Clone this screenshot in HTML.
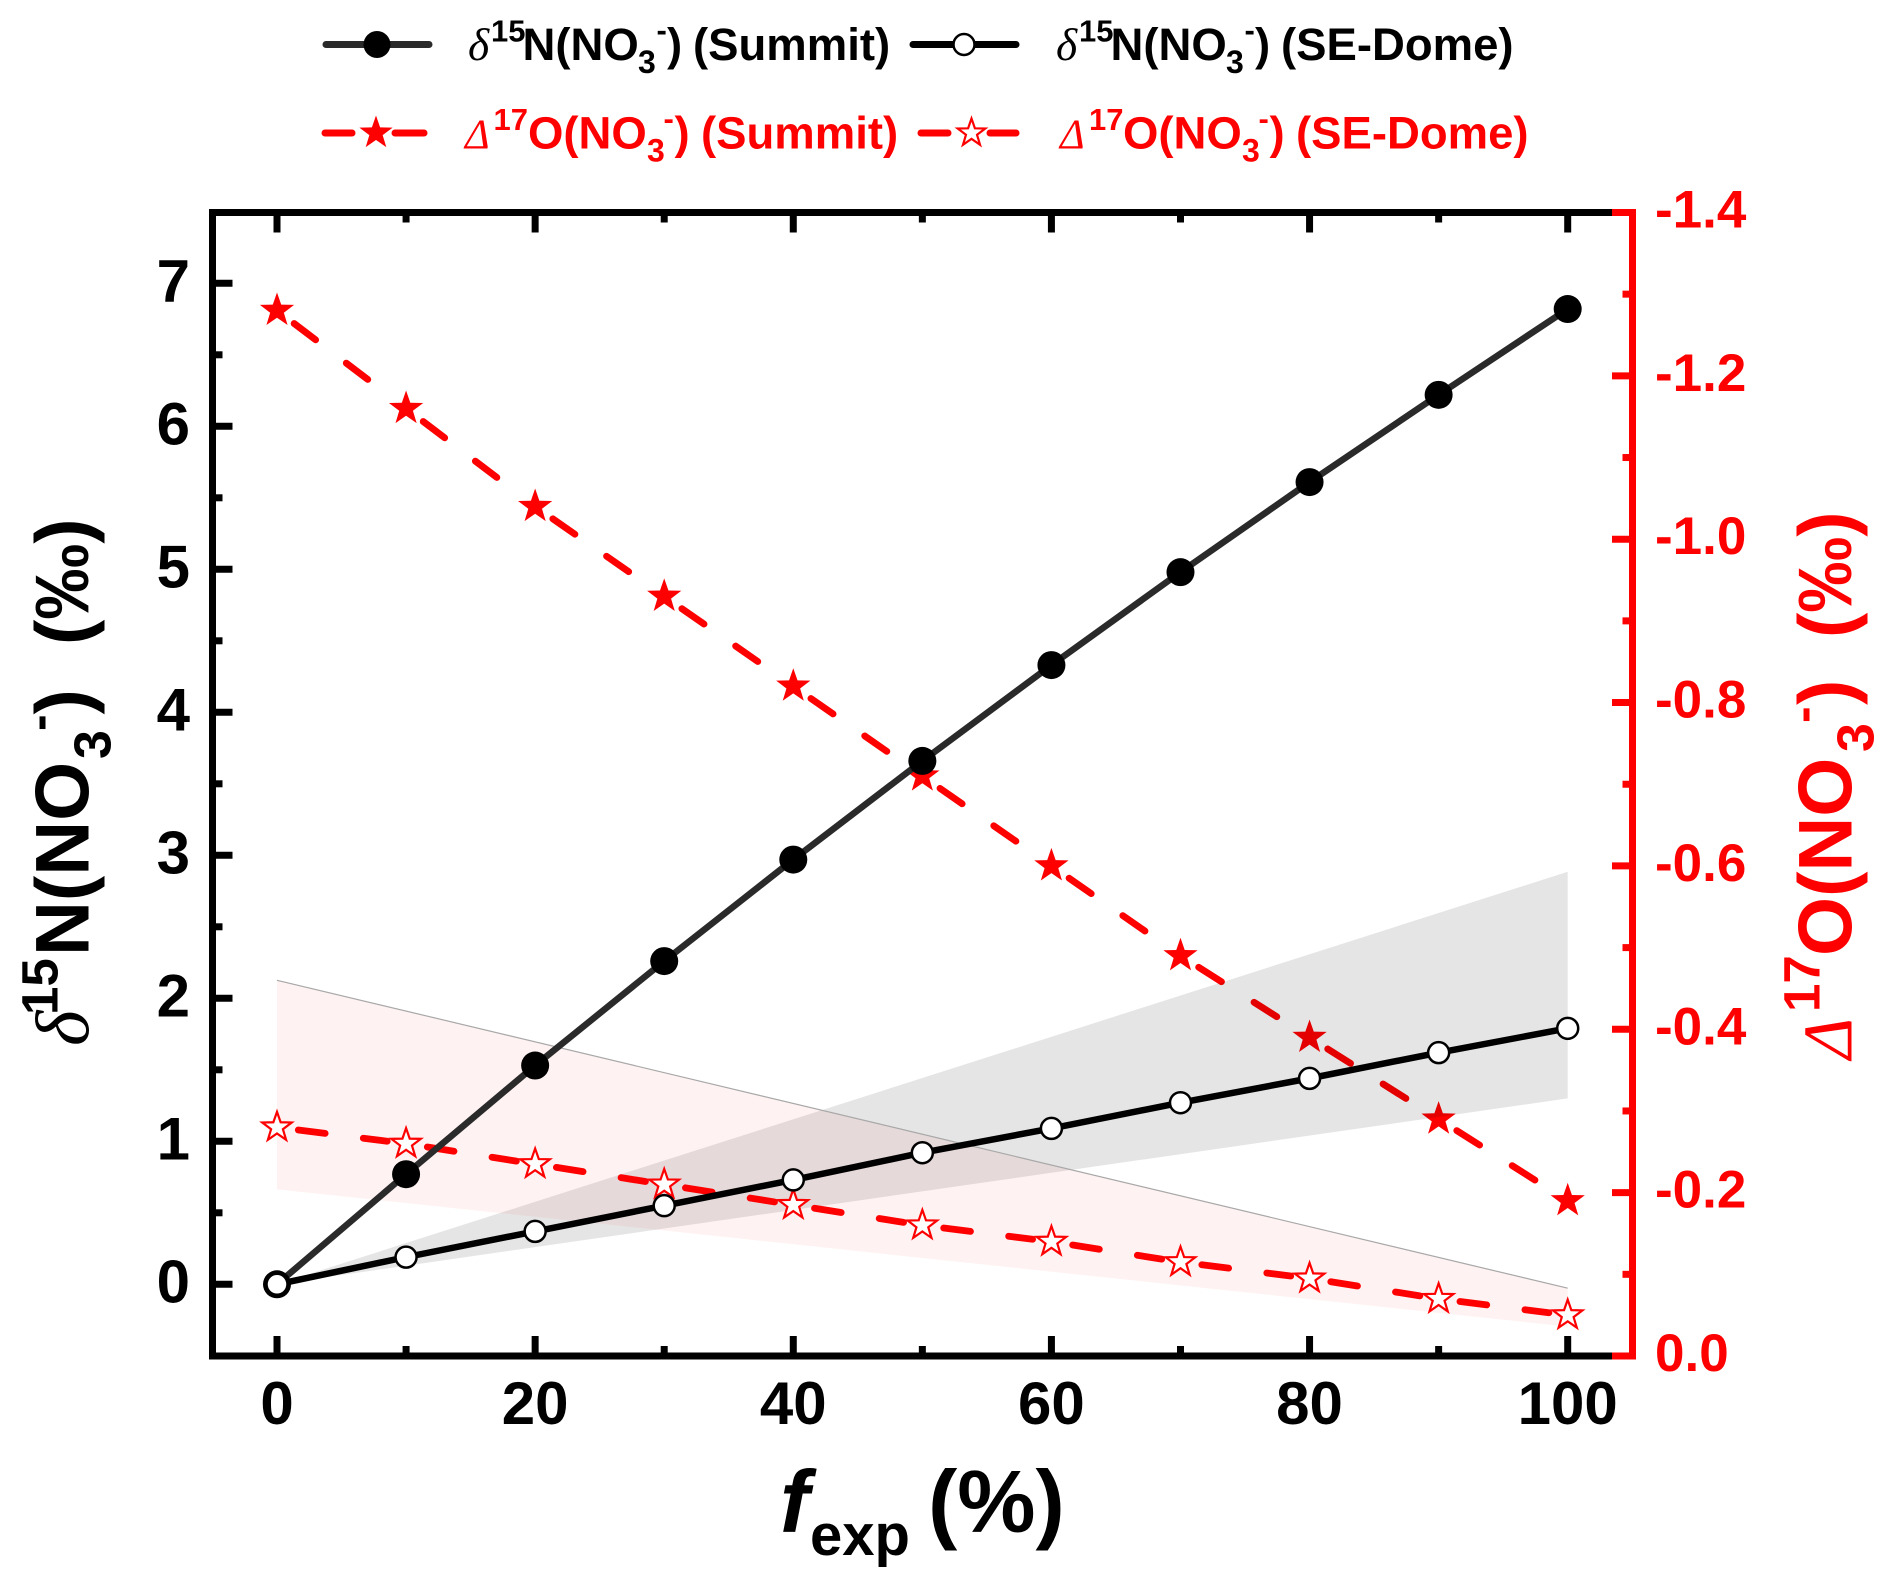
<!DOCTYPE html>
<html lang="en">
<head>
<meta charset="utf-8">
<title>Nitrate isotopes versus f-exp</title>
<style>
html,body{margin:0;padding:0;background:#fff}
svg{display:block}
text{font-family:"Liberation Sans","DejaVu Sans",sans-serif;font-weight:bold}
.gr{font-family:"Liberation Serif","DejaVu Serif",serif;font-style:italic;font-weight:normal}
</style>
</head>
<body>
<svg id="chart" xmlns="http://www.w3.org/2000/svg" width="1892" height="1586" viewBox="0 0 1892 1586">
  <rect width="1892" height="1586" fill="#fff"/>
  <g id="red-summit-layer"></g>
  <g id="band-layer"></g>
  <g id="red-dome-layer"></g>
  <g id="black-layer"></g>
  <g id="axes-layer"></g>

  <g id="legend">
    <g>
      <line x1="326" y1="44.5" x2="429" y2="44.5" stroke="#2a2a2a" stroke-width="7" stroke-linecap="round"/>
      <circle cx="377" cy="44.5" r="13.5" fill="#000"/>
      <text transform="translate(468,60)" font-size="45.5" fill="#000"><tspan class="gr" x="0" y="0">δ</tspan><tspan font-size="31" x="23" y="-18.5">15</tspan><tspan x="54.5" y="0">N(NO</tspan><tspan font-size="32" x="170" y="13">3</tspan><tspan font-size="31" x="188.5" y="-19.5">-</tspan><tspan x="199" y="0">)</tspan><tspan x="225" y="0">(Summit)</tspan></text>
    </g>
    <g>
      <line x1="913" y1="44.5" x2="1016" y2="44.5" stroke="#000" stroke-width="7" stroke-linecap="round"/>
      <circle cx="964" cy="44.5" r="10.5" fill="#fff" stroke="#000" stroke-width="2.5"/>
      <text transform="translate(1056,60)" font-size="45.5" fill="#000"><tspan class="gr" x="0" y="0">δ</tspan><tspan font-size="31" x="23" y="-18.5">15</tspan><tspan x="54.5" y="0">N(NO</tspan><tspan font-size="32" x="170" y="13">3</tspan><tspan font-size="31" x="188.5" y="-19.5">-</tspan><tspan x="199" y="0">)</tspan><tspan x="225" y="0">(SE-Dome)</tspan></text>
    </g>
    <g>
      <line x1="325" y1="133" x2="352" y2="133" stroke="#f00" stroke-width="7" stroke-linecap="round"/>
      <line x1="395" y1="133" x2="424" y2="133" stroke="#f00" stroke-width="7" stroke-linecap="round"/>
      <polygon id="legend-star-solid" fill="#f00" stroke="none"/>
      <text transform="translate(465,148.5)" font-size="45.5" fill="#f00"><tspan class="gr" font-size="42" x="0" y="0">Δ</tspan><tspan font-size="31" x="28.5" y="-18.5">17</tspan><tspan x="63" y="0">O(NO</tspan><tspan font-size="32" x="182" y="13">3</tspan><tspan font-size="31" x="198.5" y="-19.5">-</tspan><tspan x="209.5" y="0">)</tspan><tspan x="236" y="0">(Summit)</tspan></text>
    </g>
    <g>
      <line x1="921" y1="133" x2="948" y2="133" stroke="#f00" stroke-width="7" stroke-linecap="round"/>
      <line x1="990" y1="133" x2="1016" y2="133" stroke="#f00" stroke-width="7" stroke-linecap="round"/>
      <polygon id="legend-star-open" fill="#fff" stroke="#f00" stroke-width="2.2"/>
      <text transform="translate(1060,148.5)" font-size="45.5" fill="#f00"><tspan class="gr" font-size="42" x="0" y="0">Δ</tspan><tspan font-size="31" x="29" y="-18.5">17</tspan><tspan x="63" y="0">O(NO</tspan><tspan font-size="32" x="182" y="13">3</tspan><tspan font-size="31" x="198.5" y="-19.5">-</tspan><tspan x="209.5" y="0">)</tspan><tspan x="236" y="0">(SE-Dome)</tspan></text>
    </g>
  </g>

  <text font-size="88" fill="#000"><tspan font-style="italic" x="780" y="1532">f</tspan><tspan font-size="58" x="810" y="1555">exp</tspan><tspan x="928" y="1532">(%)</tspan></text>

  <text transform="translate(88.5,1046) rotate(-90)" font-size="76" fill="#000"><tspan class="gr" x="0" y="0">δ</tspan><tspan font-size="51" x="31" y="-31">15</tspan><tspan x="90" y="0">N(NO</tspan><tspan font-size="52" x="287" y="22">3</tspan><tspan font-size="50" x="315" y="-33">-</tspan><tspan x="331.5" y="0">)</tspan><tspan x="401" y="0">(‰)</tspan></text>

  <text transform="translate(1851.5,1059) rotate(-90)" font-size="76" fill="#f00"><tspan class="gr" font-size="70" x="0" y="0">Δ</tspan><tspan font-size="51" x="47" y="-32">17</tspan><tspan x="103" y="0">O(NO</tspan><tspan font-size="52" x="307" y="22">3</tspan><tspan font-size="50" x="336" y="-32">-</tspan><tspan x="354" y="0">)</tspan><tspan x="421" y="0">(‰)</tspan></text>
</svg>

<script>
/* ---------- data ---------- */
const fExp = [0, 10, 20, 30, 40, 50, 60, 70, 80, 90, 100];
const d15nSummit = [0, 0.77, 1.53, 2.26, 2.97, 3.66, 4.33, 4.98, 5.61, 6.22, 6.82];
const d15nDome = [0, 0.19, 0.37, 0.55, 0.73, 0.92, 1.09, 1.27, 1.44, 1.62, 1.79];
const d17oSummit = [-1.28, -1.16, -1.04, -0.93, -0.82, -0.71, -0.60, -0.49, -0.39, -0.29, -0.19];
const d17oDome = [-0.28, -0.26, -0.235, -0.21, -0.185, -0.16, -0.14, -0.115, -0.095, -0.07, -0.05];

const bandX = [0, 100];
const d15nBandUpper = [0, 2.885];
const d15nBandLower = [0, 1.30];
const d17oBandUpper = [-0.46, -0.083];
const d17oBandLower = [-0.204, -0.036];

const xMajorTicks = [0, 20, 40, 60, 80, 100];
const xMinorTicks = [10, 30, 50, 70, 90];
const leftMajorTicks = [0, 1, 2, 3, 4, 5, 6, 7];
const leftMinorTicks = [0.5, 1.5, 2.5, 3.5, 4.5, 5.5, 6.5];
const rightMajorTicks = [0, -0.2, -0.4, -0.6, -0.8, -1.0, -1.2, -1.4];
const rightMinorTicks = [-0.1, -0.3, -0.5, -0.7, -0.9, -1.1, -1.3];

/* ---------- axis functions ---------- */
const NS = 'http://www.w3.org/2000/svg';
const sx = v => 277 + v * 12.907;
const syL = v => 1284.3 - v * 143;
const syR = v => 1356 + v * 816.8;

function mk(tag, attrs, parent) {
  const el = document.createElementNS(NS, tag);
  for (const k in attrs) el.setAttribute(k, attrs[k]);
  parent.appendChild(el);
  return el;
}
function starPoints(cx, cy, R) {
  const pts = [];
  for (let i = 0; i < 10; i++) {
    const r = i % 2 ? R * 0.4 : R;
    const a = -Math.PI / 2 + i * Math.PI / 5;
    pts.push((cx + r * Math.cos(a)).toFixed(2) + ',' + (cy + r * Math.sin(a)).toFixed(2));
  }
  return pts.join(' ');
}
function bandPath(xs, upper, lower, yf) {
  const top = xs.map((x, i) => sx(x) + ',' + yf(upper[i]));
  const bot = xs.map((x, i) => sx(x) + ',' + yf(lower[i])).reverse();
  return top.concat(bot).join(' ');
}

/* dashes restart after every marker, leaving a gap around each symbol */
function dashedSegments(parent, xs, ys, yf, namePrefix) {
  for (let i = 0; i < xs.length - 1; i++) {
    const x1 = sx(xs[i]), y1 = yf(ys[i]), x2 = sx(xs[i + 1]), y2 = yf(ys[i + 1]);
    const len = Math.hypot(x2 - x1, y2 - y1);
    const ux = (x2 - x1) / len, uy = (y2 - y1) / len;
    const start = 21.5;
    const seg = mk('line', {
      x1: x1 + ux * start, y1: y1 + uy * start,
      x2: x2 - ux * 19, y2: y2 - uy * 19,
      stroke: '#f00', 'stroke-width': 6.8, 'stroke-linecap': 'round',
      'stroke-dasharray': '27 38.5'
    }, parent);
    
    
  }
}

/* ---------- series ---------- */
const redSummit = document.getElementById('red-summit-layer');
dashedSegments(redSummit, fExp, d17oSummit, syR, 'd17o-summit');
fExp.forEach((x, i) => {
  const s = mk('polygon', { points: starPoints(sx(x), syR(d17oSummit[i]), 18), fill: '#f00' }, redSummit);
  
  
});

const bands = document.getElementById('band-layer');
const grayBand = mk('polygon', { points: bandPath(bandX, d15nBandUpper, d15nBandLower, syL), fill: 'rgba(0,0,0,0.1)' }, bands);


const pinkBand = mk('polygon', { points: bandPath(bandX, d17oBandUpper, d17oBandLower, syR), fill: 'rgba(255,0,0,0.05)' }, bands);


const pinkEdge = mk('line', {
  x1: sx(bandX[0]), y1: syR(d17oBandUpper[0]), x2: sx(bandX[1]), y2: syR(d17oBandUpper[1]),
  stroke: '#a8a8a8', 'stroke-width': 1.2
}, bands);



const redDome = document.getElementById('red-dome-layer');
dashedSegments(redDome, fExp, d17oDome, syR, 'd17o-se-dome');
fExp.forEach((x, i) => {
  const s = mk('polygon', {
    points: starPoints(sx(x), syR(d17oDome[i]), 15.5),
    fill: '#fff', stroke: '#f00', 'stroke-width': 2.2
  }, redDome);
  
  
});

const black = document.getElementById('black-layer');
const summitLine = mk('polyline', {
  points: fExp.map((x, i) => sx(x) + ',' + syL(d15nSummit[i])).join(' '),
  fill: 'none', stroke: '#2a2a2a', 'stroke-width': 6.5
}, black);


fExp.forEach((x, i) => {
  const c = mk('circle', { cx: sx(x), cy: syL(d15nSummit[i]), r: 14, fill: '#000' }, black);
  
  
});
const domeLine = mk('polyline', {
  points: fExp.map((x, i) => sx(x) + ',' + syL(d15nDome[i])).join(' '),
  fill: 'none', stroke: '#000', 'stroke-width': 6.5
}, black);


fExp.forEach((x, i) => {
  const c = mk('circle', { cx: sx(x), cy: syL(d15nDome[i]), r: 10.5, fill: '#fff', stroke: '#000', 'stroke-width': 2.5 }, black);
  
  
});

/* ---------- axes ---------- */
const axes = document.getElementById('axes-layer');
const L = 212.5, R = 1632.5, T = 212.5, B = 1356;
const SW = 7;

function spine(x1, y1, x2, y2, color, name) {
  const s = mk('line', { x1, y1, x2, y2, stroke: color, 'stroke-width': SW }, axes);
  
  
}
spine(L - SW / 2, T, 1612, T, '#000', 'top-axis-line');
spine(L - SW / 2, B, 1612, B, '#000', 'x-axis-line');
spine(L, T, L, B, '#000', 'left-axis-line');
spine(1612, T, R + SW / 2, T, '#f00', 'right-axis-top-cap');
spine(1612, B, R + SW / 2, B, '#f00', 'right-axis-bottom-cap');
spine(R, T, R, B, '#f00', 'right-axis-line');

function tick(x1, y1, x2, y2, color, name) {
  const t = mk('line', { x1, y1, x2, y2, stroke: color, 'stroke-width': SW }, axes);
  
  
}
xMajorTicks.forEach(v => {
  tick(sx(v), B, sx(v), 1336, '#000', 'x-major-tick');
  tick(sx(v), T, sx(v), 232.5, '#000', 'top-major-tick');
  const t = mk('text', { x: sx(v), y: 1424, 'font-size': 60, 'text-anchor': 'middle', fill: '#000' }, axes);
  
  
  t.textContent = v;
});
xMinorTicks.forEach(v => {
  tick(sx(v), B, sx(v), 1346, '#000', 'x-minor-tick');
  tick(sx(v), T, sx(v), 222.5, '#000', 'top-minor-tick');
});
leftMajorTicks.forEach(v => {
  tick(L, syL(v), 232.5, syL(v), '#000', 'left-major-tick');
  const t = mk('text', { x: 190, y: syL(v) + 18, 'font-size': 60, 'text-anchor': 'end', fill: '#000' }, axes);
  
  
  t.textContent = v;
});
leftMinorTicks.forEach(v => {
  tick(L, syL(v), 222.5, syL(v), '#000', 'left-minor-tick');
});
rightMajorTicks.forEach(v => {
  tick(1612, syR(v), R, syR(v), '#f00', 'right-major-tick');
  const t = mk('text', { x: 1655, y: syR(v) + 15, 'font-size': 53, fill: '#f00' }, axes);
  
  
  t.textContent = v === 0 ? '0.0' : v.toFixed(1);
});
rightMinorTicks.forEach(v => {
  tick(1622.5, syR(v), R, syR(v), '#f00', 'right-minor-tick');
});

/* ---------- legend stars ---------- */
document.getElementById('legend-star-solid').setAttribute('points', starPoints(376, 133, 17.5));
document.getElementById('legend-star-open').setAttribute('points', starPoints(971.5, 133, 14.5));
</script>
</body>
</html>
